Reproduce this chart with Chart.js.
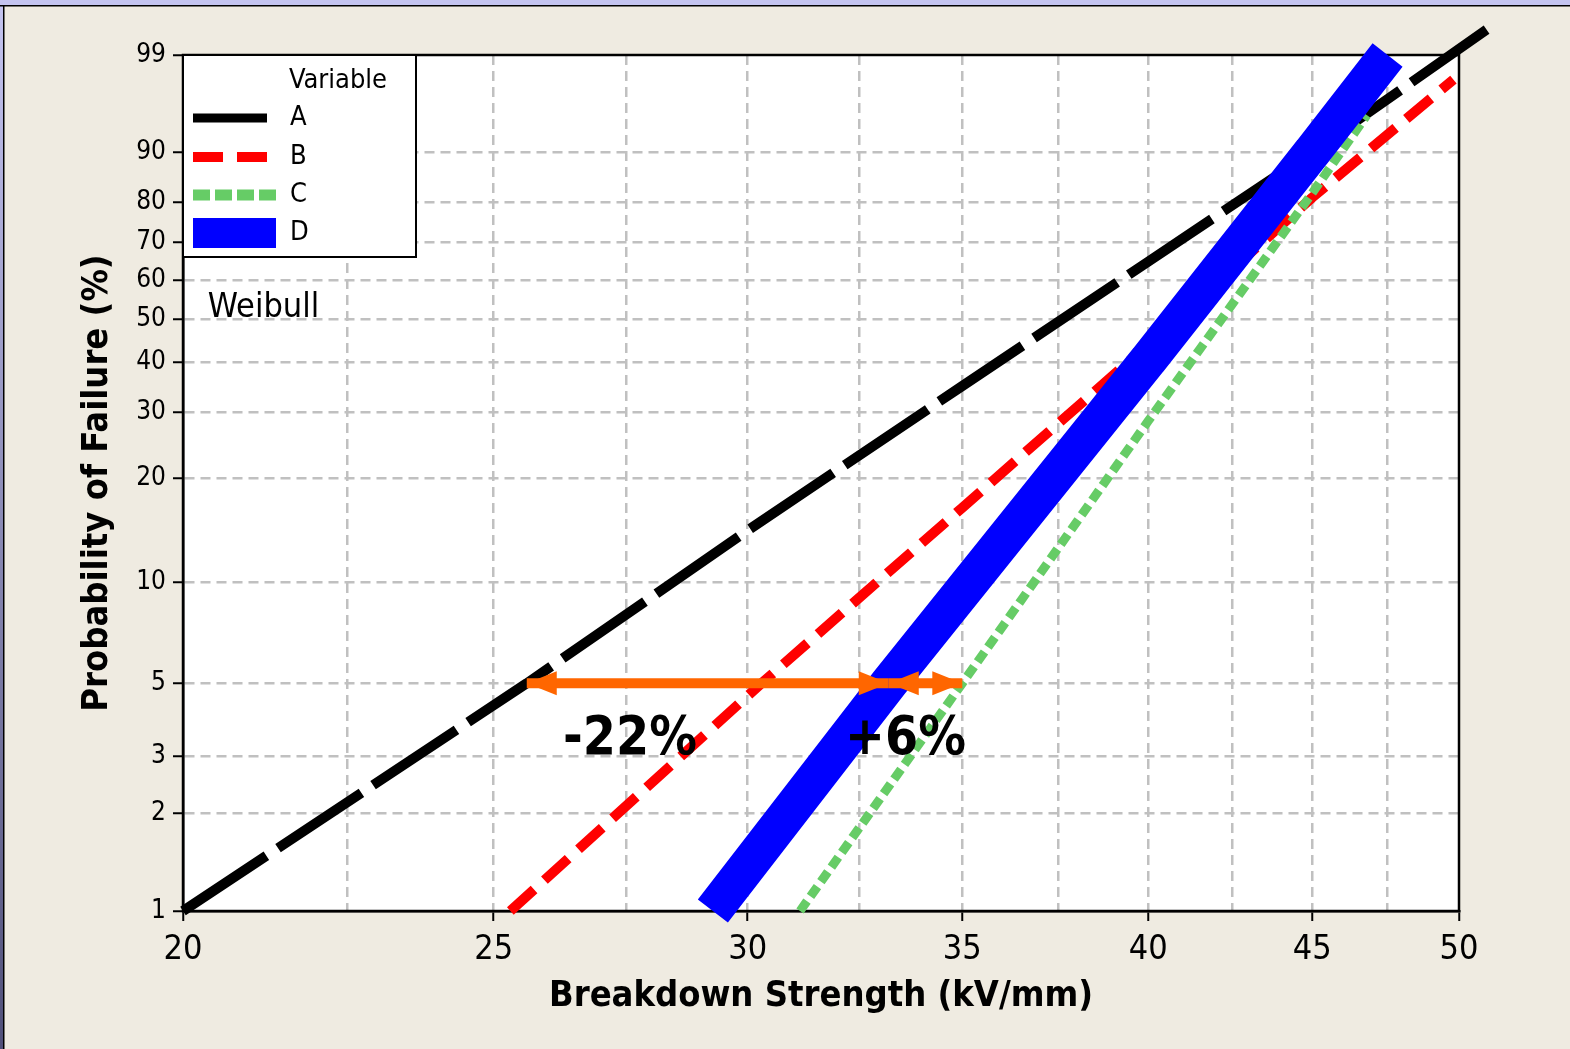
<!DOCTYPE html>
<html>
<head>
<meta charset="utf-8">
<script src="https://cdn.jsdelivr.net/npm/chart.js@4.4.1/dist/chart.umd.min.js"></script>
<style>
  html, body { margin: 0; padding: 0; background: #EFEBE1; }
  canvas { display: block; }
</style>
</head>
<body>
<canvas id="grafico" width="1570" height="1049"></canvas>
<script>
const FONTE = '"DejaVu Sans Condensed", "DejaVu Sans", sans-serif';

// axis ticks
const yTicks = [1, 2, 3, 5, 10, 20, 30, 40, 50, 60, 70, 80, 90, 99];
const xGrid = [20, 22.5, 25, 27.5, 30, 32.5, 35, 37.5, 40, 42.5, 45, 47.5, 50];
const xLabels = [20, 25, 30, 35, 40, 45, 50];

// fitted lines (kV/mm, % failure)
const aKv = [20, 25.6, 30, 35, 40, 45, 51];
const aPct = [1, 5, 14.2, 35, 65, 90, 99.6];
const bKv = [25.3, 30.3, 35, 40, 45, 49.8];
const bPct = [1, 5, 16.5, 44, 81, 97.9];
const cKv = [31.15, 35, 40, 45, 46.8];
const cPct = [1, 5, 28.5, 82, 95];
const dKv = [29.26, 33.2, 40, 45, 47.5];
const dPct = [1, 5, 40.5, 90, 99];

// orange arrows at 5 %
const seta1Kv = [25.6, 33.2];
const seta2Kv = [33.2, 35.0];
const setaPct = 5;

// annotations
const notaTxt = ['-22%', '+6%'];
const notaKv = [27.57, 33.6];
const notaPct = [3.36, 3.36];

const weib = p => Math.log(-Math.log(1 - p / 100));
const pontos = (kv, pct) => kv.map((x, i) => ({ x, y: weib(pct[i]) }));

const fundo = {
  id: 'fundo',
  beforeDraw(chart) {
    const { ctx, chartArea: a, width, height } = chart;
    ctx.save();
    ctx.fillStyle = '#EFEBE1';
    ctx.fillRect(0, 0, width, height);
    ctx.fillStyle = '#C4C4F0';
    ctx.fillRect(0, 0, width, 5);
    const g = ctx.createLinearGradient(0, 0, 0, height);
    g.addColorStop(0, '#C4C4F0');
    g.addColorStop(1, '#50507A');
    ctx.fillStyle = g;
    ctx.fillRect(0, 0, 3, height);
    ctx.fillStyle = '#000';
    ctx.fillRect(0, 5, width, 1.5);
    ctx.fillRect(3, 5, 1.5, height);
    ctx.fillStyle = '#fff';
    ctx.fillRect(a.left, a.top, a.right - a.left, a.bottom - a.top);
    ctx.restore();
  },
  beforeDatasetsDraw(chart) {
    const { ctx, chartArea: a } = chart;
    ctx.save();
    ctx.strokeStyle = '#000';
    ctx.lineWidth = 2.5;
    ctx.strokeRect(a.left, a.top, a.right - a.left, a.bottom - a.top);
    ctx.restore();
  }
};

const extras = {
  id: 'extras',
  afterDatasetsDraw(chart) {
    const { ctx, chartArea: a } = chart;
    const sx = chart.scales.x, sy = chart.scales.y;
    ctx.save();

    // arrow heads
    chart.data.datasets.forEach((ds, i) => {
      if (!ds.seta) return;
      const pts = chart.getDatasetMeta(i).data;
      const cabeca = (p, dir) => {
        ctx.beginPath();
        ctx.moveTo(p.x, p.y);
        ctx.lineTo(p.x - dir * 30, p.y - 12);
        ctx.lineTo(p.x - dir * 30, p.y + 12);
        ctx.closePath();
        ctx.fillStyle = ds.borderColor;
        ctx.fill();
      };
      cabeca(pts[0], -1);
      cabeca(pts[pts.length - 1], 1);
    });

    // annotations
    ctx.fillStyle = '#000';
    ctx.textAlign = 'center';
    ctx.textBaseline = 'middle';
    ctx.font = 'bold 53px ' + FONTE;
    notaTxt.forEach((t, i) => {
      ctx.fillText(t, sx.getPixelForValue(notaKv[i]), sy.getPixelForValue(weib(notaPct[i])));
    });
    ctx.textAlign = 'left';
    ctx.font = '34px ' + FONTE;
    ctx.fillText('Weibull', sx.getPixelForValue(20.36), sy.getPixelForValue(weib(52.9)));

    // legend box
    const L = a.left, T = a.top;
    ctx.fillStyle = '#fff';
    ctx.fillRect(L, T, 233, 202);
    ctx.strokeStyle = '#000';
    ctx.lineWidth = 2;
    ctx.strokeRect(L, T, 233, 202);
    ctx.fillStyle = '#000';
    ctx.font = '27px ' + FONTE;
    ctx.textAlign = 'center';
    ctx.fillText('Variable', L + 155, T + 26);
    ctx.textAlign = 'left';
    const linhas = [63, 102, 140, 178];
    chart.data.datasets.filter(ds => ds.legenda).forEach((ds, i) => {
      const y = T + linhas[i];
      ctx.save();
      ctx.strokeStyle = ds.borderColor;
      ctx.lineWidth = ds.legendaLargura;
      ctx.setLineDash(ds.legendaDash || []);
      ctx.beginPath();
      ctx.moveTo(L + 10, y);
      ctx.lineTo(L + ds.legendaFim, y);
      ctx.stroke();
      ctx.restore();
      ctx.fillText(ds.label, L + 107, y);
    });
    ctx.restore();
  }
};

const linha = (label, kv, pct, cor, largura, dash, ordem, extra) => Object.assign({
  label, data: pontos(kv, pct), borderColor: cor, borderWidth: largura,
  borderDash: dash, borderCapStyle: 'butt', borderJoinStyle: 'bevel',
  pointRadius: 0, tension: 0, clip: false, order: ordem, legenda: true
}, extra);

const ctx = document.getElementById('grafico').getContext('2d');
const grafico = new Chart(ctx, {
  type: 'line',
  data: {
    datasets: [
      linha('A', aKv, aPct, '#000000', 10, [100, 14], 5, { legendaLargura: 9, legendaFim: 84, legendaDash: [] }),
      linha('B', bKv, bPct, '#FF0000', 10, [32, 14], 4, { legendaLargura: 10, legendaFim: 84, legendaDash: [30, 14] }),
      linha('C', cKv, cPct, '#66CC66', 9, [12, 6], 3, { legendaLargura: 11, legendaFim: 93, legendaDash: [17, 5] }),
      linha('D', dKv, dPct, '#0000FF', 38, [], 2, { legendaLargura: 30, legendaFim: 93, legendaDash: [] }),
      { label: 'seta1', data: seta1Kv.map(x => ({ x, y: weib(setaPct) })), borderColor: '#FF6600',
        borderWidth: 10, pointRadius: 0, clip: false, order: 1, seta: true },
      { label: 'seta2', data: seta2Kv.map(x => ({ x, y: weib(setaPct) })), borderColor: '#FF6600',
        borderWidth: 10, pointRadius: 0, clip: false, order: 0, seta: true }
    ]
  },
  options: {
    responsive: false,
    animation: false,
    devicePixelRatio: 1,
    layout: { padding: { left: 0, top: 55, right: 111, bottom: 0 } },
    plugins: { legend: { display: false }, tooltip: { enabled: false } },
    scales: {
      x: {
        type: 'logarithmic',
        min: 20, max: 50,
        afterBuildTicks: s => { s.ticks = xGrid.map(v => ({ value: v })); },
        afterFit: s => { s.height = 138; s.paddingLeft = 0; s.paddingRight = 0; },
        ticks: {
          autoSkip: false, maxRotation: 0, padding: 9, color: '#000',
          font: { family: FONTE, size: 34 },
          callback: v => xLabels.includes(v) ? String(v) : ''
        },
        grid: {
          color: c => (c.tick && (c.tick.value === 20 || c.tick.value === 50)) ? 'rgba(0,0,0,0)' : '#C0C0C0',
          lineWidth: 2.5,
          tickColor: c => (c.tick && xLabels.includes(c.tick.value)) ? '#000' : 'rgba(0,0,0,0)',
          tickLength: 10, tickWidth: 2
        },
        border: { display: true, color: '#000', width: 2.5, dash: [10, 6] },
        title: {
          display: true, text: 'Breakdown Strength (kV/mm)', color: '#000',
          font: { family: FONTE, size: 36, weight: 'bold' }, padding: { top: 0, bottom: 31 }
        }
      },
      y: {
        type: 'linear',
        min: weib(1), max: weib(99),
        afterBuildTicks: s => { s.ticks = yTicks.map(p => ({ value: weib(p) })); },
        afterFit: s => { s.width = 183; s.paddingTop = 0; s.paddingBottom = 0; },
        ticks: {
          autoSkip: false, padding: 7, color: '#000',
          font: { family: FONTE, size: 26 },
          callback: (v, i) => String(yTicks[i])
        },
        grid: {
          color: c => (c.index === 0 || c.index === yTicks.length - 1) ? 'rgba(0,0,0,0)' : '#C0C0C0',
          lineWidth: 2.5,
          tickColor: '#000',
          tickLength: 10, tickWidth: 2
        },
        border: { display: true, color: '#000', width: 2.5, dash: [10, 6] },
        title: {
          display: true, text: 'Probability of Failure (%)', color: '#000',
          font: { family: FONTE, size: 36, weight: 'bold' }, padding: { top: 76, bottom: 0 }
        }
      }
    }
  },
  plugins: [fundo, extras]
});
</script>
</body>
</html>
